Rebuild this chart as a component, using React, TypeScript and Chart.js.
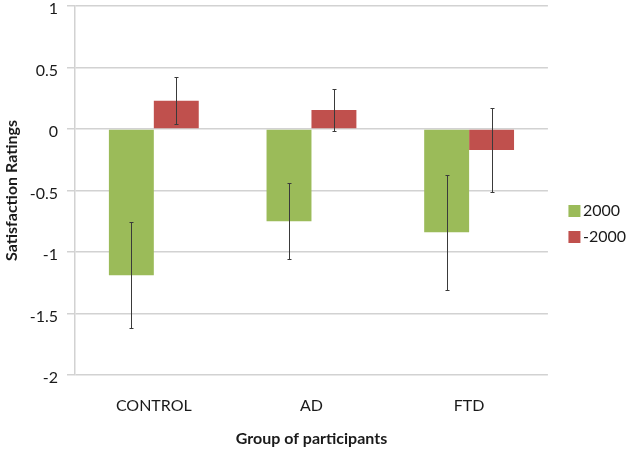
import React, { useEffect, useRef } from "react";
import { Chart, registerables } from "chart.js";

Chart.register(...registerables);

const categories = ["CONTROL", "AD", "FTD"];
const seriesNames = ["2000", "-2000"];
const values2000 = [-1.19, -0.75, -0.84];
const errors2000 = [0.43, 0.31, 0.47];
const valuesMinus2000 = [0.23, 0.155, -0.17];
const errorsMinus2000 = [0.19, 0.17, 0.34];
const yTicks = [1, 0.5, 0, -0.5, -1, -1.5, -2];

const FONT = "Lato, 'Open Sans', sans-serif";

const errorBarPlugin = {
  id: "errorBars",
  afterDatasetsDraw(chart: any) {
    const ctx = chart.ctx;
    const yScale = chart.scales.y;
    ctx.save();
    ctx.strokeStyle = "#3a3a3a";
    ctx.lineWidth = 1;
    chart.data.datasets.forEach((ds: any, di: number) => {
      const meta = chart.getDatasetMeta(di);
      meta.data.forEach((bar: any, i: number) => {
        const v = ds.data[i];
        const e = ds.errors[i];
        const x = Math.round(bar.x) + 0.5;
        const yTop = Math.round(yScale.getPixelForValue(v + e)) + 0.5;
        const yBot = Math.round(yScale.getPixelForValue(v - e)) + 0.5;
        ctx.beginPath();
        ctx.moveTo(x, yTop);
        ctx.lineTo(x, yBot);
        ctx.moveTo(x - 2, yTop);
        ctx.lineTo(x + 2, yTop);
        ctx.moveTo(x - 2, yBot);
        ctx.lineTo(x + 2, yBot);
        ctx.stroke();
      });
    });
    ctx.restore();
  },
};

const legendShiftPlugin = {
  id: "legendShift",
  afterLayout(chart: any) {
    const lg = chart.legend;
    if (lg) {
      const shift = chart.chartArea.right + 16 - lg.left;
      lg.left += shift;
      lg.right += shift;
    }
  },
};

export default function App() {
  const canvasRef = useRef<HTMLCanvasElement | null>(null);

  useEffect(() => {
    if (!canvasRef.current) return;
    const chart = new Chart(canvasRef.current, {
      type: "bar",
      data: {
        labels: categories,
        datasets: [
          {
            label: seriesNames[0],
            data: values2000,
            errors: errors2000,
            backgroundColor: "#9BBB59",
            borderWidth: 0,
          } as any,
          {
            label: seriesNames[1],
            data: valuesMinus2000,
            errors: errorsMinus2000,
            backgroundColor: "#C0504D",
            borderWidth: 0,
          } as any,
        ],
      },
      options: {
        animation: false,
        responsive: true,
        maintainAspectRatio: false,
        datasets: {
          bar: { categoryPercentage: 0.57, barPercentage: 1.0 },
        },
        layout: { padding: { left: 2, right: 10, top: 0, bottom: 1 } },
        plugins: {
          tooltip: { enabled: false },
          legend: {
            position: "right",
            labels: {
              usePointStyle: true,
              pointStyle: "rect",
              boxWidth: 1,
              boxHeight: 12,
              padding: 10,
              color: "#1a1a1a",
              font: { family: FONT, size: 16 },
            },
          },
        },
        scales: {
          x: {
            grid: { display: false },
            border: { display: false },
            afterFit(scale: any) {
              scale.height = 73;
            },
            ticks: {
              color: "#1a1a1a",
              font: { family: FONT, size: 16 },
              padding: 13,
            },
            title: {
              display: true,
              text: "Group of participants",
              color: "#1a1a1a",
              font: { family: FONT, size: 16, weight: "bold" },
              padding: { top: 4, bottom: 0 },
            },
          },
          y: {
            min: -2,
            max: 1,
            afterBuildTicks(scale: any) {
              scale.ticks = yTicks.map((v) => ({ value: v }));
            },
            afterFit(scale: any) {
              scale.width = 73;
              scale.paddingTop = 6;
              scale.paddingBottom = 0;
            },
            grid: {
              color: "#d2d2d2",
              lineWidth: 1.5,
              tickLength: 8,
              drawTicks: true,
            },
            border: { display: true, color: "#d2d2d2", width: 1.5 },
            ticks: {
              color: "#1a1a1a",
              font: { family: FONT, size: 16 },
              padding: 9,
              labelOffset: 3,
              callback: (v: any) => String(v),
            },
            title: {
              display: true,
              text: "Satisfaction Ratings",
              color: "#1a1a1a",
              font: { family: FONT, size: 16, weight: "bold" },
              padding: { top: 0, bottom: 4 },
            },
          },
        },
      } as any,
      plugins: [errorBarPlugin, legendShiftPlugin],
    });
    return () => chart.destroy();
  }, []);

  return (
    <div style={{ position: "absolute", left: 0, top: 0, width: 630, height: 449, background: "#fff" }}>
      <canvas ref={canvasRef} />
    </div>
  );
}
